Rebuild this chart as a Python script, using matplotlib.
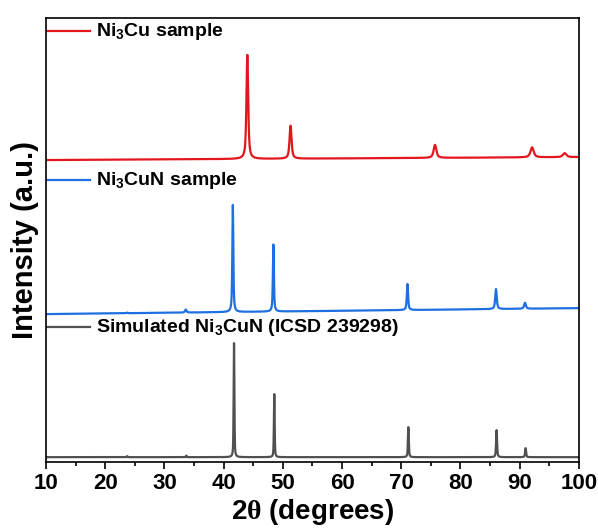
import numpy as np
import matplotlib.pyplot as plt
from matplotlib.ticker import MultipleLocator

plt.rcParams['font.family'] = 'Liberation Sans'
plt.rcParams['font.weight'] = 'bold'
plt.rcParams['mathtext.fontset'] = 'custom'
plt.rcParams['mathtext.rm'] = 'Liberation Serif:bold'
plt.rcParams['mathtext.bf'] = 'Liberation Sans:bold'

# peak lists (2theta, height above baseline, fwhm)
ni3cu_pos = [44.0, 51.3, 75.7, 92.1, 97.6]
ni3cu_int = [104, 33, 13, 10, 4]
ni3cu_fwhm = [0.35, 0.4, 0.55, 0.65, 0.7]
ni3cu_base = [302, 305]

ni3cun_pos = [23.7, 33.6, 41.55, 48.4, 71.05, 86.0, 90.9]
ni3cun_int = [0.5, 3, 107, 67, 26, 20, 6]
ni3cun_fwhm = [0.3, 0.3, 0.2, 0.2, 0.25, 0.3, 0.35]
ni3cun_base = [148, 154]

sim_pos = [23.7, 33.7, 41.75, 48.55, 71.2, 86.1, 91.0]
sim_int = [1, 1.5, 114, 63, 30, 27, 9]
sim_fwhm = [0.15, 0.15, 0.15, 0.15, 0.18, 0.2, 0.2]
sim_base = [5, 5]

labels = [r'Ni$_\mathbf{3}$Cu sample', r'Ni$_\mathbf{3}$CuN sample',
          r'Simulated Ni$_\mathbf{3}$CuN (ICSD 239298)']
colors = ['#e3161e', '#1e6fe0', '#505050']
legend_y = [431, 282, 135]


def pattern(tt, pos, inten, fwhm, base, eta=0.7):
    # pseudo-Voigt peaks on a straight baseline
    y = base[0] + (base[1] - base[0]) * (tt - tt[0]) / (tt[-1] - tt[0])
    for p, h, w in zip(pos, inten, fwhm):
        g = np.exp(-4 * np.log(2) * (tt - p) ** 2 / w ** 2)
        l = 1 / (1 + 4 * (tt - p) ** 2 / w ** 2)
        y = y + h * (eta * l + (1 - eta) * g)
    return y


tt = np.linspace(10, 100, 9001)
traces = [
    pattern(tt, ni3cu_pos, ni3cu_int, ni3cu_fwhm, ni3cu_base),
    pattern(tt, ni3cun_pos, ni3cun_int, ni3cun_fwhm, ni3cun_base),
    pattern(tt, sim_pos, sim_int, sim_fwhm, sim_base, eta=0.5),
]

fig = plt.figure(figsize=(5.98, 5.30), dpi=100)
ax = fig.add_axes([0.077, 0.128, 0.891, 0.838])

for y, c, lab, ly in zip(traces, colors, labels, legend_y):
    ax.plot(tt, y, color=c, lw=1.6)
    ax.plot([10, 17.4], [ly, ly], color=c, lw=1.6)
    ax.text(18.4, ly, lab, fontsize=14, fontweight='bold', va='center', ha='left')

ax.set_xlim(10, 100)
ax.set_ylim(0, 444)
ax.xaxis.set_major_locator(MultipleLocator(10))
ax.xaxis.set_minor_locator(MultipleLocator(5))
ax.set_yticks([])
ax.tick_params(axis='x', which='major', direction='out', length=5, width=1.2,
               labelsize=16, pad=3)
ax.tick_params(axis='x', which='minor', direction='out', length=3, width=1.2)
for s in ax.spines.values():
    s.set_linewidth(1.2)

ax.set_xlabel(r'2$\mathrm{\theta}$ (degrees)', fontsize=20, fontweight='bold', labelpad=2)
ax.set_ylabel('Intensity (a.u.)', fontsize=21, fontweight='bold', labelpad=5)

fig.savefig('out.png', dpi=100)
